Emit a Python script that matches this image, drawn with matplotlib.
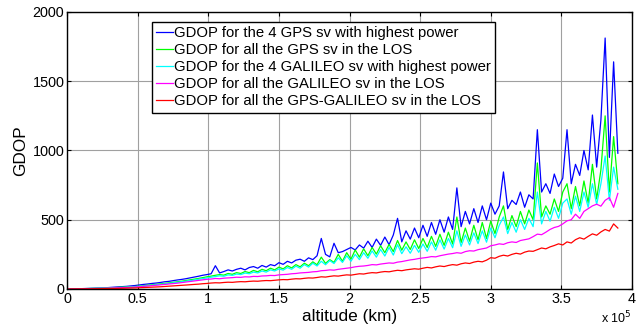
import numpy as np
import matplotlib
matplotlib.use("Agg")
import matplotlib.pyplot as plt

# altitude samples (km)
altitude = np.arange(0, 390001, 3000)

# GDOP, one value per altitude sample
gdopGps4 = [0, 0.3, 1, 2, 3, 4, 5, 6, 7, 8.5,
            11, 13, 15, 17, 19, 22, 25, 29, 33, 36,
            40, 43, 47, 52, 55, 60, 65, 69, 74, 80,
            86, 92, 99, 104, 110, 168, 116, 126, 138, 130,
            142, 150, 138, 155, 162, 150, 170, 158, 176, 168,
            190, 178, 200, 188, 208, 215, 200, 225, 212, 240,
            365, 250, 232, 330, 262, 270, 285, 300, 282, 318,
            295, 345, 300, 360, 315, 375, 320, 390, 510, 340,
            420, 360, 440, 370, 460, 380, 480, 395, 500, 410,
            520, 430, 730, 450, 560, 470, 580, 480, 600, 500,
            620, 540, 600, 845, 580, 640, 610, 700, 590, 680,
            650, 1150, 700, 760, 690, 830, 740, 800, 1150, 760,
            900, 820, 1000, 860, 1256, 880, 1220, 1812, 950, 1640, 980]

gdopGpsAll = [0, 0.2, 0.8, 1.5, 2.3, 3, 4, 4.8, 5.6, 6.5,
              8, 9.5, 11, 12.5, 14, 16, 18, 21, 24, 27,
              30, 33, 37, 40, 44, 48, 52, 56, 61, 66,
              71, 76, 82, 88, 93, 99, 104, 100, 112, 106,
              118, 112, 126, 118, 134, 124, 142, 132, 150, 138,
              158, 145, 168, 152, 176, 160, 186, 168, 196, 175,
              230, 185, 212, 192, 250, 200, 262, 215, 282, 230,
              290, 240, 300, 252, 312, 262, 322, 270, 350, 280,
              340, 285, 355, 292, 365, 300, 380, 308, 395, 315,
              410, 325, 520, 335, 440, 345, 460, 355, 480, 365,
              490, 400, 520, 600, 430, 530, 450, 560, 470, 570,
              500, 910, 520, 600, 540, 650, 560, 700, 760, 580,
              740, 600, 780, 620, 900, 650, 860, 1250, 700, 1100, 760]

gdopGal4 = [0, 0.2, 0.7, 1.3, 2, 2.7, 3.5, 4.2, 5, 5.8,
            7, 8.3, 9.7, 11, 12.5, 14, 16, 18.5, 21, 24,
            27, 30, 33, 36, 40, 44, 48, 52, 56, 60,
            65, 70, 75, 80, 85, 90, 95, 92, 102, 98,
            108, 104, 115, 110, 122, 116, 130, 122, 138, 130,
            145, 136, 155, 142, 165, 150, 176, 158, 186, 166,
            200, 175, 205, 184, 225, 192, 240, 200, 250, 212,
            262, 222, 275, 230, 285, 238, 300, 245, 320, 255,
            305, 258, 315, 265, 325, 272, 340, 280, 355, 288,
            365, 298, 420, 308, 390, 318, 405, 328, 420, 338,
            440, 370, 460, 520, 400, 480, 410, 500, 430, 510,
            450, 700, 470, 560, 490, 590, 510, 620, 650, 540,
            670, 560, 700, 590, 760, 610, 760, 960, 640, 880, 720]

gdopGalAll = [0, 0.2, 0.6, 1.1, 1.7, 2.3, 3, 3.7, 4.4, 5.2,
              6, 7, 8.2, 9.5, 11, 12.5, 14, 16.5, 19, 21.5,
              24, 27, 30, 33, 36, 39, 42, 46, 50, 54,
              58, 62, 66, 70, 72, 76, 74, 78, 80, 82,
              85, 84, 88, 87, 91, 90, 94, 95, 98, 97,
              102, 104, 106, 110, 112, 116, 118, 120, 124, 126,
              132, 134, 138, 136, 142, 146, 150, 154, 160, 164,
              166, 170, 176, 174, 180, 184, 188, 186, 194, 198,
              204, 210, 214, 220, 224, 228, 234, 232, 240, 246,
              252, 256, 262, 258, 270, 276, 274, 284, 290, 296,
              312, 318, 326, 322, 334, 340, 336, 350, 356, 362,
              378, 396, 392, 410, 430, 444, 452, 470, 492, 500,
              540, 510, 560, 580, 600, 612, 598, 640, 660, 590, 690]

gdopGpsGal = [0, 0.1, 0.3, 0.6, 0.9, 1.2, 1.6, 2, 2.4, 2.8,
              3.3, 3.8, 4.4, 5, 5.7, 6.5, 7.5, 8.8, 10, 11.5,
              13, 14.5, 16, 18, 20, 22, 24, 26, 28.5, 31,
              33, 35, 38, 40, 43, 45, 44, 47, 49, 48,
              51, 53, 52, 55, 57, 56, 59, 61, 60, 63,
              66, 68, 67, 71, 74, 73, 77, 80, 79, 83,
              88, 86, 91, 95, 93, 98, 102, 100, 105, 110,
              108, 114, 118, 116, 122, 126, 124, 130, 135, 132,
              138, 142, 146, 143, 150, 156, 152, 160, 166, 162,
              170, 176, 172, 182, 188, 184, 194, 200, 196, 208,
              226, 222, 236, 244, 238, 250, 258, 252, 266, 274,
              272, 284, 296, 290, 304, 314, 326, 318, 340, 332,
              356, 370, 360, 380, 398, 388, 412, 430, 418, 470, 440]

labels = ["GDOP for the 4 GPS sv with highest power",
          "GDOP for all the GPS sv in the LOS",
          "GDOP for the 4 GALILEO sv with highest power",
          "GDOP for all the GALILEO sv in the LOS",
          "GDOP for all the GPS-GALILEO sv in the LOS"]
colors = ["#0000ff", "#00ff00", "#00ffff", "#ff00ff", "#ff0000"]

xTicks = [0, 50000, 100000, 150000, 200000, 250000, 300000, 350000, 400000]
xTickLabels = ["0", "0.5", "1", "1.5", "2", "2.5", "3", "3.5", "4"]
yTicks = [0, 500, 1000, 1500, 2000]

plt.rcParams['font.family'] = ['Liberation Sans', 'DejaVu Sans']

fig = plt.figure(figsize=(6.39, 3.29), dpi=100)
ax = fig.add_axes([0.105, 0.1216, 0.884, 0.842])

series = [gdopGps4, gdopGpsAll, gdopGal4, gdopGalAll, gdopGpsGal]
for values, label, color in zip(series, labels, colors):
    ax.plot(altitude, values, color=color, linewidth=0.9, label=label)

ax.set_xlim(0, 400000)
ax.set_ylim(0, 2000)
ax.set_xticks(xTicks)
ax.set_xticklabels(xTickLabels)
ax.set_yticks(yTicks)

# MATLAB-like look: inward ticks on every side, grey grid
ax.tick_params(direction='in', top=True, right=True, labelsize=10.4, length=3, pad=2)
ax.grid(True, color='#a0a0a0', linewidth=0.8)
ax.set_axisbelow(True)
for side in ax.spines.values():
    side.set_linewidth(1.0)

ax.set_xlabel("altitude (km)", fontsize=12.4, labelpad=2)
ax.set_ylabel("GDOP", fontsize=12.4, labelpad=3)
ax.text(1.0, -0.125, r"x 10$^5$", transform=ax.transAxes, ha='right', va='baseline', fontsize=9)

leg = ax.legend(loc='upper left', bbox_to_anchor=(0.150, 0.964), fontsize=10.7,
                handlelength=1.1, handletextpad=0.08, borderaxespad=0, borderpad=0.3,
                labelspacing=0.2, fancybox=False, framealpha=1, edgecolor='black')
leg.get_frame().set_linewidth(1.0)

plt.savefig("out.png", dpi=100)
